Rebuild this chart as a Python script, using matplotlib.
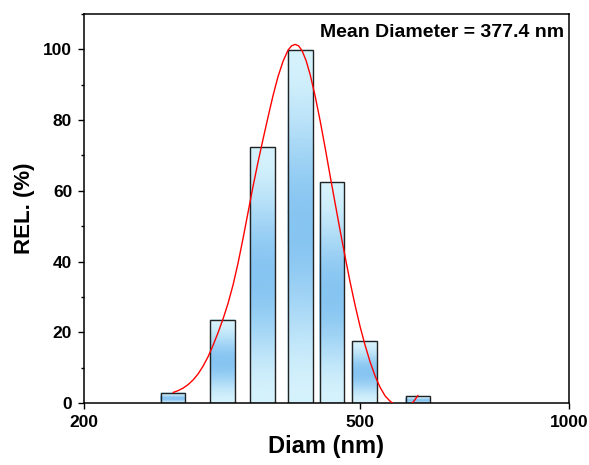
import numpy as np
import matplotlib
matplotlib.use("Agg")
import matplotlib.pyplot as plt
from matplotlib.colors import LinearSegmentedColormap
from matplotlib.ticker import MultipleLocator, NullLocator, FixedLocator

plt.rcParams['font.family'] = ['Liberation Sans', 'DejaVu Sans']
plt.rcParams['font.weight'] = 'bold'

# size distribution (bin centre in nm, relative %)
diam = [268.8, 316.8, 361.6, 409.9, 455.4, 507.0, 605.6]
rel = [2.9, 23.6, 72.3, 99.8, 62.4, 17.5, 1.9]

# fitted distribution curve
fit_x = [269.0, 273.3, 277.8, 282.5, 287.2, 292.0, 296.9, 301.9, 306.9,
         312.1, 317.3, 322.6, 328.0, 333.5, 339.1, 344.8, 350.5, 356.4,
         362.4, 368.4, 374.6, 380.9, 387.3, 393.7, 398.3, 403.0, 407.7,
         412.5, 418.0, 423.6, 430.7, 437.9, 445.2, 452.6, 460.2, 467.9,
         475.8, 483.7, 491.8, 500.0, 508.4, 516.9, 525.6, 534.4, 543.3,
         552.4, 561.7, 571.1, 580.6, 590.3, 598.2, 605.6]
fit_y = [3.0, 3.5, 4.2, 5.2, 6.5, 8.2, 10.4, 13.1, 16.3,
         19.9, 23.8, 28.2, 33.4, 39.6, 46.6, 54.0, 61.3, 68.2,
         74.7, 80.9, 87.0, 92.4, 96.7, 99.8, 101.0, 101.4, 101.0,
         99.6, 96.8, 92.9, 86.8, 79.8, 72.2, 64.3, 56.5, 48.8,
         41.3, 34.2, 27.6, 21.6, 16.3, 11.6, 7.6, 4.4, 2.0,
         0.5, -0.6, -1.2, -1.3, -0.6, 0.6, 2.1]

mean_label = "Mean Diameter = 377.4 nm"

fig = plt.figure(figsize=(5.89, 4.65), dpi=100)
ax = fig.add_axes([0.1426, 0.1333, 0.8234, 0.8366])
ax.set_xscale('log')

# bars are a constant width on the log axis
half = 10 ** 0.0177
lefts = np.array(diam) / half
rights = np.array(diam) * half

grad = LinearSegmentedColormap.from_list('barfill', ['#d5f2fc', '#86c4f1'])
t = np.linspace(0, 1, 25)
shade = np.sin(np.pi * t) ** 2
for l, r, h in zip(lefts, rights, rel):
    X = np.column_stack([np.full_like(t, l), np.full_like(t, r)])
    Y = np.column_stack([t * h, t * h])
    C = np.column_stack([shade, shade])
    ax.pcolormesh(X, Y, C, cmap=grad, vmin=0, vmax=1, shading='gouraud', zorder=1)

ax.bar(lefts, rel, width=rights - lefts, align='edge', facecolor='none',
       edgecolor='#222222', linewidth=1.0, zorder=2)

ax.plot(fit_x, fit_y, color='#ff0000', linewidth=1.0, zorder=3)

ax.set_xlim(200, 1000)
ax.set_ylim(0, 110)
ax.xaxis.set_major_locator(FixedLocator([200, 500, 1000]))
ax.xaxis.set_minor_locator(NullLocator())
ax.set_xticklabels(['200', '500', '1000'])
ax.yaxis.set_major_locator(MultipleLocator(20))
ax.yaxis.set_minor_locator(MultipleLocator(10))
ax.set_ylim(0, 110)

ax.tick_params(axis='both', which='major', direction='out', length=4.5, width=1.0,
               labelsize=12.5, pad=4)
ax.tick_params(axis='y', which='minor', direction='out', length=2.5, width=1.0)
for s in ax.spines.values():
    s.set_linewidth(1.1)

ax.set_xlabel('Diam (nm)', fontsize=17, fontweight='bold', labelpad=4)
ax.set_ylabel('REL. (%)', fontsize=16, fontweight='bold', labelpad=6)

ax.text(0.99, 0.941, mean_label, transform=ax.transAxes, ha='right',
        va='baseline', fontsize=14, fontweight='bold')

fig.savefig('out.png', dpi=100)
